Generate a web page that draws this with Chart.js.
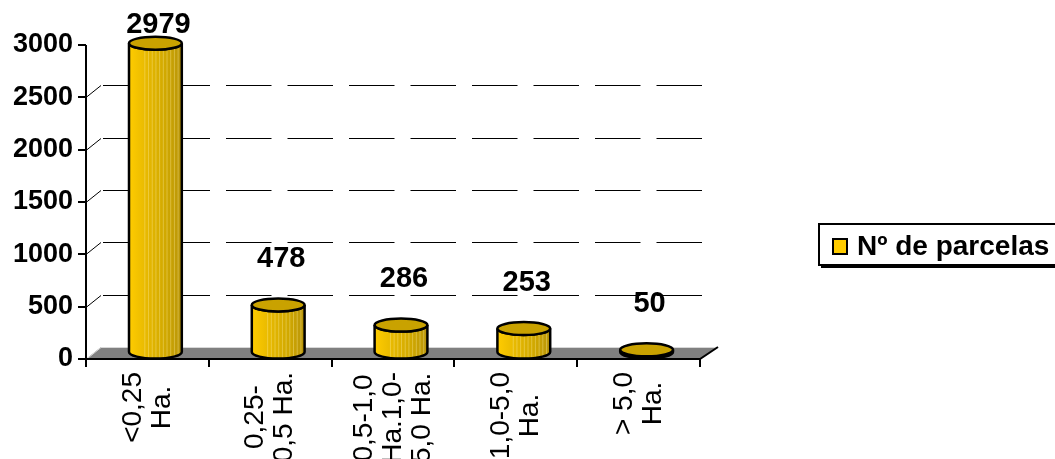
<!DOCTYPE html>
<html lang="es">
<head>
<meta charset="utf-8">
<title>Nº de parcelas</title>
<script src="https://cdn.jsdelivr.net/npm/chart.js@4.4.0/dist/chart.umd.min.js"></script>
<style>
  html, body { margin: 0; padding: 0; background: #ffffff; }
  #grafico { display: block; }
</style>
</head>
<body>
<canvas id="grafico" width="1055" height="459"></canvas>
<script>
// Datos del gráfico
const categorias = [
    ['<0,25', 'Ha.'],
    ['0,25-', '0,5 Ha.'],
    ['0,5-1,0', 'Ha.1,0-', '5,0 Ha.'],
    ['1,0-5,0', 'Ha.'],
    ['> 5,0', 'Ha.']
];
const valores = [2979, 478, 286, 253, 50];
const nombreSerie = 'Nº de parcelas';
const ticksY = [0, 500, 1000, 1500, 2000, 2500, 3000];

const FUENTE = '"Liberation Sans", Arial, sans-serif';

// Desplazamientos de la perspectiva 3D
const FONDO_DX = 17, FONDO_DY = -12;
const BARRA_DX = 8, BARRA_DY = -4;

// Pared del fondo, suelo gris y ejes
function dibujarFondo(chart) {
    const { ctx, chartArea: a, scales: { y } } = chart;
    ctx.save();

    ctx.strokeStyle = '#000000';
    ctx.lineWidth = 1;
    ticksY.slice(1, -1).forEach(v => {
        const py = Math.round(y.getPixelForValue(v)) + 0.5;
        ctx.setLineDash([]);
        ctx.beginPath();
        ctx.moveTo(a.left, py);
        ctx.lineTo(a.left + FONDO_DX - 2, py + FONDO_DY);
        ctx.stroke();
        ctx.setLineDash([45.5, 16]);
        ctx.beginPath();
        ctx.moveTo(a.left + FONDO_DX, py + FONDO_DY);
        ctx.lineTo(a.right + 3, py + FONDO_DY);
        ctx.stroke();
    });
    ctx.setLineDash([]);

    // suelo
    const base = y.getPixelForValue(0);
    ctx.fillStyle = '#808080';
    ctx.beginPath();
    ctx.moveTo(a.left, base);
    ctx.lineTo(a.right, base);
    ctx.lineTo(a.right + 18, base - 12);
    ctx.lineTo(a.left + 15, base - 12);
    ctx.closePath();
    ctx.fill();
    ctx.strokeStyle = '#d8d8d8';
    ctx.lineWidth = 1;
    ctx.beginPath();
    ctx.moveTo(a.left + 2, base - 1);
    ctx.lineTo(a.left + 15, base - 11.5);
    ctx.lineTo(a.right + 16, base - 11.5);
    ctx.stroke();

    // ejes
    ctx.strokeStyle = '#000000';
    ctx.lineWidth = 2;
    ctx.beginPath();
    ctx.moveTo(a.left, a.top);
    ctx.lineTo(a.left, base + 1);
    ctx.moveTo(a.left, base);
    ctx.lineTo(a.right, base);
    ctx.lineTo(a.right + 18, base - 12);
    ctx.stroke();
    ctx.restore();
}

// Contorno del cuerpo del cilindro
function trazarCuerpo(ctx, cx, yTop, yBase, rx, ry) {
    ctx.beginPath();
    ctx.moveTo(cx - rx, yTop);
    ctx.lineTo(cx - rx, yBase);
    ctx.ellipse(cx, yBase, rx, ry, 0, Math.PI, 0, true);
    ctx.lineTo(cx + rx, yTop);
    ctx.ellipse(cx, yTop, rx, ry, 0, 0, Math.PI, false);
    ctx.closePath();
}

// Cilindro dorado para cada barra
function dibujarCilindro(ctx, cx, yTop, yBase, rx) {
    const ry = 6.5;
    const grad = ctx.createLinearGradient(cx - rx, 0, cx + rx, 0);
    grad.addColorStop(0, '#FFCC00');
    grad.addColorStop(0.35, '#E6B800');
    grad.addColorStop(0.7, '#D0A800');
    grad.addColorStop(1, '#B8940A');

    ctx.save();
    trazarCuerpo(ctx, cx, yTop, yBase, rx, ry);
    ctx.fillStyle = grad;
    ctx.fill();

    // rayas claras verticales
    ctx.save();
    ctx.clip();
    ctx.strokeStyle = 'rgba(255,240,170,0.35)';
    ctx.lineWidth = 1;
    for (let k = 0.3; k < 0.95; k += 0.07) {
        const xs = cx - rx + 2 * rx * k;
        ctx.beginPath();
        ctx.moveTo(xs, yTop);
        ctx.lineTo(xs, yBase + ry);
        ctx.stroke();
    }
    ctx.restore();

    ctx.strokeStyle = '#000000';
    ctx.lineWidth = 2.5;
    trazarCuerpo(ctx, cx, yTop, yBase, rx, ry);
    ctx.stroke();

    // tapa superior
    ctx.beginPath();
    ctx.ellipse(cx, yTop, rx, ry, 0, 0, Math.PI * 2);
    ctx.fillStyle = '#C9A200';
    ctx.fill();
    ctx.stroke();
    ctx.restore();
}

const efecto3d = {
    id: 'efecto3d',
    beforeDatasetsDraw(chart) {
        dibujarFondo(chart);
    },
    afterDatasetsDraw(chart) {
        const { ctx, chartArea: a, scales: { x } } = chart;
        const meta = chart.getDatasetMeta(0);

        meta.data.forEach(bar => {
            const cx = bar.x + BARRA_DX;
            dibujarCilindro(ctx, cx, bar.y + BARRA_DY, bar.base - 6, bar.width / 2);
        });

        // etiquetas de valor
        ctx.save();
        ctx.fillStyle = '#000000';
        ctx.font = 'bold 29px ' + FUENTE;
        ctx.textAlign = 'center';
        ctx.textBaseline = 'middle';
        meta.data.forEach((bar, i) => {
            const ty = Math.max(bar.y - 50, 25);
            ctx.fillText(String(valores[i]), bar.x + 11, ty);
        });

        // etiquetas del eje X, giradas 90 grados
        ctx.font = '28px ' + FUENTE;
        const lh = 29;
        categorias.forEach((lineas, i) => {
            const px = x.getPixelForTick(i);
            const maxW = Math.max(...lineas.map(t => ctx.measureText(t).width));
            const cy = a.bottom + 13 + maxW / 2;
            ctx.save();
            ctx.translate(px, cy);
            ctx.rotate(-Math.PI / 2);
            lineas.forEach((t, j) => {
                ctx.fillText(t, 0, (j - (lineas.length - 1) / 2) * lh);
            });
            ctx.restore();
        });
        ctx.restore();
    },
    afterDraw(chart) {
        // leyenda
        const ctx = chart.ctx;
        const lx = 819, ly = 224, lw = 260, lhBox = 41;
        ctx.save();
        ctx.fillStyle = '#000000';
        ctx.fillRect(lx + 2, ly + 2, lw, lhBox + 1);
        ctx.fillStyle = '#ffffff';
        ctx.fillRect(lx, ly, lw, lhBox);
        ctx.strokeStyle = '#000000';
        ctx.lineWidth = 2;
        ctx.strokeRect(lx, ly, lw, lhBox);

        ctx.fillStyle = '#FFCC00';
        ctx.fillRect(833, 239, 14, 15);
        ctx.strokeRect(833, 239, 14, 15);

        ctx.fillStyle = '#000000';
        ctx.font = 'bold 28px ' + FUENTE;
        ctx.textAlign = 'left';
        ctx.textBaseline = 'middle';
        ctx.fillText(nombreSerie, 857, 247);
        ctx.restore();
    }
};

function crearGrafico() {
    const ctx = document.getElementById('grafico');

    new Chart(ctx, {
        type: 'bar',
        data: {
            labels: categorias,
            datasets: [{
                label: nombreSerie,
                data: valores,
                backgroundColor: 'rgba(0,0,0,0)',
                borderWidth: 0,
                barPercentage: 0.43,
                categoryPercentage: 1
            }]
        },
        options: {
            responsive: false,
            animation: false,
            devicePixelRatio: 1,
            layout: {
                padding: { left: 0, top: 45, right: 355, bottom: 0 }
            },
            plugins: {
                legend: { display: false },
                tooltip: { enabled: false }
            },
            scales: {
                x: {
                    offset: true,
                    grid: {
                        offset: true,
                        drawOnChartArea: false,
                        drawTicks: true,
                        tickLength: 8,
                        color: '#000000',
                        lineWidth: 2
                    },
                    border: { display: false },
                    ticks: { display: false },
                    afterFit(scale) { scale.height = 100; }
                },
                y: {
                    min: ticksY[0],
                    max: ticksY[ticksY.length - 1],
                    grid: {
                        drawOnChartArea: false,
                        tickLength: 8,
                        color: '#000000',
                        lineWidth: 2
                    },
                    border: { display: false },
                    ticks: {
                        stepSize: ticksY[1] - ticksY[0],
                        color: '#000000',
                        padding: 5,
                        font: { family: FUENTE, size: 27, weight: 'bold' },
                        callback: value => String(value)
                    },
                    afterFit(scale) { scale.width = 86; }
                }
            }
        },
        plugins: [efecto3d]
    });
}

document.addEventListener('DOMContentLoaded', crearGrafico);
</script>
</body>
</html>
